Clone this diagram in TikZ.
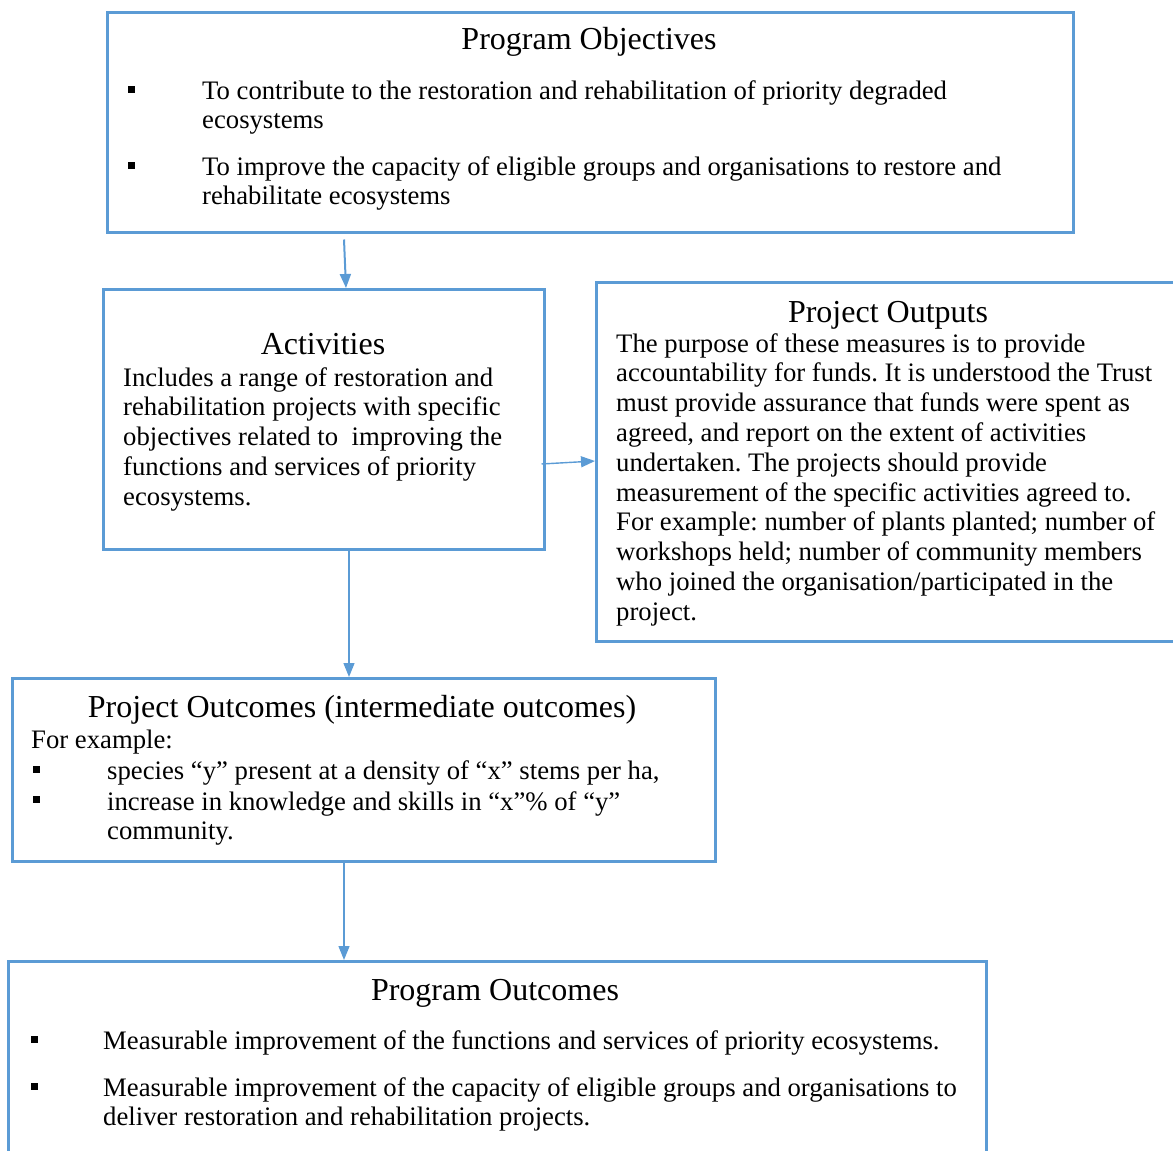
\documentclass[tikz,border=0pt]{standalone}
\usepackage{fontspec}
\setmainfont{Liberation Serif}
\usetikzlibrary{calc,arrows.meta}
\definecolor{bx}{HTML}{5B9BD5}
\newcommand{\bodyf}{\fontsize{26.7}{29.8}\selectfont}
\newcommand{\titf}{\fontsize{32}{36}\selectfont}
\frenchspacing
\begin{document}
\begin{tikzpicture}[x={(1pt,0pt)},y={(0pt,-1pt)},
 box/.style={draw=bx, line width=2.5pt, inner sep=0pt, anchor=north west},
 txt/.style={anchor=north west, inner sep=0pt, align=left, font=\bodyf},
 ttl/.style={anchor=base, inner sep=0pt, font=\titf},
 bul/.style={fill=black, minimum size=7pt, inner sep=0pt},
 arr/.style={draw=bx, line width=1.4pt, -{Triangle[length=14pt,width=11pt]}}]
\useasboundingbox (0,0) rectangle (1173,1151);
\clip (0,0) rectangle (1173,1151);
% boxes
\node[box, minimum width=966pt, minimum height=220pt] (obj) at (106,11) {};
\node[box, minimum width=441pt, minimum height=260pt] (act) at (102,288) {};
\node[box, minimum width=600pt, minimum height=359pt] (out) at (595,281) {};
\node[box, minimum width=703pt, minimum height=183pt] (pout) at (11,677) {};
\node[box, minimum width=978pt, minimum height=220pt] (prog) at (7,960) {};
% Program Objectives
\node[ttl] (objt) at (589,49) {Program Objectives};
\node[bul] (objb1) at (131,89) {};
\node[bul] (objb2) at (131,165) {};
\node[txt] (obji1) at (202,78) {\strut To contribute to the restoration and rehabilitation of priority degraded\\ecosystems};
\node[txt] (obji2) at (202,154) {\strut To improve the capacity of eligible groups and organisations to restore and\\rehabilitate ecosystems};
% Activities
\node[ttl] (actt) at (323,354) {Activities};
\node[txt] (actx) at (123,365) {\strut Includes a range of restoration and\\rehabilitation projects with specific\\objectives related to\ \ improving the\\functions and services of priority\\ecosystems.};
% Project Outputs
\node[ttl] (outt) at (888,322) {Project Outputs};
\node[txt] (outx) at (616,331) {\strut The purpose of these measures is to provide\\accountability for funds. It is understood the Trust\\must provide assurance that funds were spent as\\agreed, and report on the extent of activities\\undertaken. The projects should provide\\measurement of the specific activities agreed to.\\For example: number of plants planted; number of\\workshops held; number of community members\\who joined the organisation/participated in the\\project.};
% Project Outcomes
\node[ttl] (poutt) at (362,717) {Project Outcomes (intermediate outcomes)};
\node[txt] (poutf) at (31,727) {\strut For example:};
\node[bul] (poutb1) at (36,769) {};
\node[bul] (poutb2) at (36,799) {};
\node[txt] (pouti1) at (107,758) {\strut species “y” present at a density of “x” stems per ha,};
\node[txt] (pouti2) at (107,789) {\strut increase in knowledge and skills in “x”\% of “y”\\community.};
% Program Outcomes
\node[ttl] (progt) at (495,1000) {Program Outcomes};
\node[bul] (progb1) at (34,1039) {};
\node[bul] (progb2) at (34,1086) {};
\node[txt] (progi1) at (103,1028) {\strut Measurable improvement of the functions and services of priority ecosystems.};
\node[txt] (progi2) at (103,1075) {\strut Measurable improvement of the capacity of eligible groups and organisations to\\deliver restoration and rehabilitation projects.};
% connectors
\draw[arr, line width=2pt] ($(obj.south west)+(238,6)$) -- ($(act.north west)+(244,0)$);
\draw[arr] ($(act.north east)+(-4,176)$) -- ($(out.north west)+(0,180)$);
\draw[arr] ($(act.south west)+(247,0)$) -- ($(pout.north west)+(338,0)$);
\draw[arr] ($(pout.south west)+(333,-2)$) -- ($(prog.north west)+(337,0)$);
\end{tikzpicture}
\end{document}
